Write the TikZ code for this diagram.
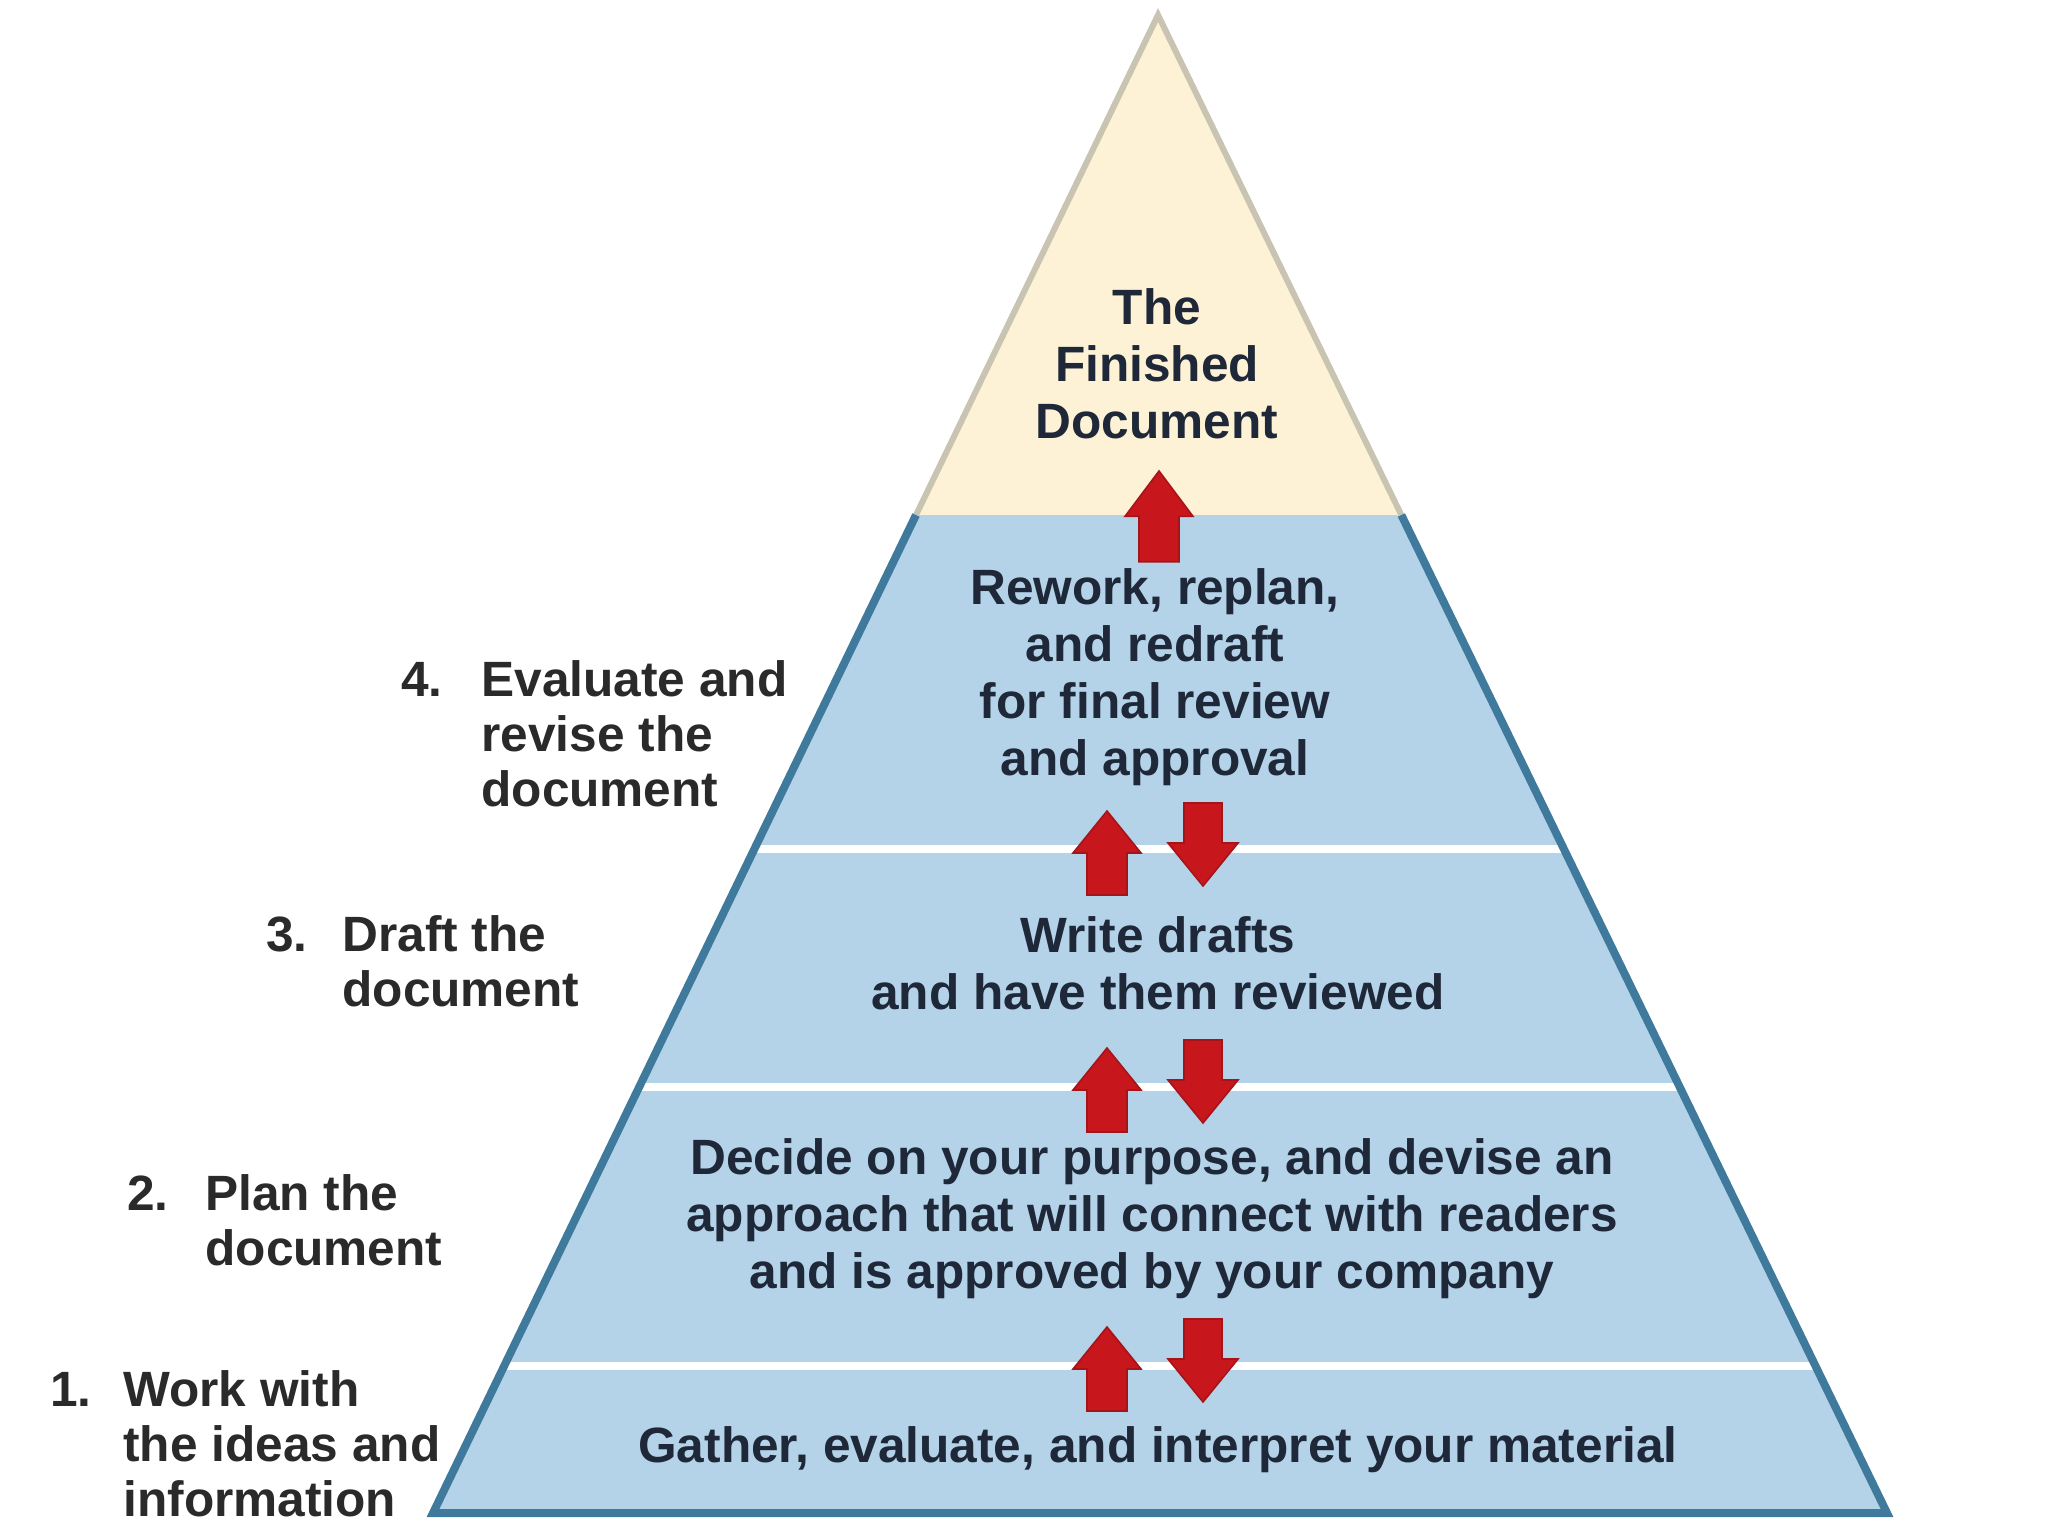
\documentclass[tikz,border=0pt]{standalone}
\usepackage{fontspec}
\setmainfont{Liberation Sans}
\usetikzlibrary{calc}
\definecolor{beige}{HTML}{FEF2D6}
\definecolor{beigeline}{HTML}{C9C4B2}
\definecolor{pyblue}{HTML}{B4D3E9}
\definecolor{pyline}{HTML}{3F7A9C}
\definecolor{arrred}{HTML}{C8161D}
\definecolor{arrline}{HTML}{A51419}
\definecolor{intxt}{HTML}{1E2838}
\definecolor{lbltxt}{HTML}{2A2A2A}
\tikzset{
  intext/.style={align=center, inner sep=0pt, text=intxt, font=\fontsize{24.8}{28.5}\selectfont\bfseries},
  lbltext/.style={align=left, anchor=west, inner sep=0pt, text=lbltxt, font=\fontsize{24.8}{27.5}\selectfont\bfseries},
  arrowstyle/.style={fill=arrred, draw=arrline, line width=0.8pt, line join=miter},
  uparr/.pic={\filldraw[arrowstyle] (0,0) -- (34,42) -- (20,42) -- (20,84) -- (-20,84) -- (-20,42) -- (-34,42) -- cycle;},
  downarr/.pic={\filldraw[arrowstyle] (0,83) -- (35,40) -- (19,40) -- (19,0) -- (-19,0) -- (-19,40) -- (-35,40) -- cycle;}
}
\newcommand{\numlbl}[3]{\makebox[#1][l]{#2}#3}
\begin{document}
\begin{tikzpicture}[x=0.5pt,y=-0.5pt]
\useasboundingbox (0,0) rectangle (2048,1536);
\fill[white] (0,0) rectangle (2048,1536);
% key points
\coordinate (A) at (1158,15);
\coordinate (BL) at (433,1513);
\coordinate (BR) at (1887,1513);
\coordinate (P1L) at ($(A)!0.3338!(BL)$);
\coordinate (P1R) at ($(A)!0.3338!(BR)$);
\coordinate (P2L) at ($(A)!0.5567!(BL)$);
\coordinate (P2R) at ($(A)!0.5567!(BR)$);
\coordinate (P3L) at ($(A)!0.7156!(BL)$);
\coordinate (P3R) at ($(A)!0.7156!(BR)$);
\coordinate (P4L) at ($(A)!0.9019!(BL)$);
\coordinate (P4R) at ($(A)!0.9019!(BR)$);
% beige top
\fill[beige] (A) -- (P1L) -- (P1R) -- cycle;
\draw[beigeline, line width=3pt, line join=miter] (P1L) -- (A) -- (P1R);
% blue body
\fill[pyblue] (P1L) -- (BL) -- (BR) -- (P1R) -- cycle;
\draw[white, line width=4pt] (P2L) -- (P2R);
\draw[white, line width=4pt] (P3L) -- (P3R);
\draw[white, line width=4pt] (P4L) -- (P4R);
\draw[pyline, line width=4pt, line join=miter] (P1L) -- (BL) -- (BR) -- (P1R);
% arrows
\pic[yscale=1.08] at (1159,471) {uparr};
\pic at (1107,811) {uparr};
\pic at (1203,803) {downarr};
\pic at (1107,1048) {uparr};
\pic at (1203,1040) {downarr};
\pic at (1107,1327) {uparr};
\pic at (1203,1319) {downarr};
% inner texts
\node[intext] (top) at (1157,364) {The\\Finished\\Document};
\node[intext] (t4) at (1155,677) {Rework, replan,\\and redraft\\for final review\\and approval};
\node[intext] (t3) at (1158,963) {Write drafts\\and have them reviewed};
\node[intext] (t2) at (1152,1219) {Decide on your purpose, and devise an\\approach that will connect with readers\\and is approved by your company};
\node[intext] (t1) at (1158,1450) {Gather, evaluate, and interpret your material};
% left labels
\node[lbltext] (l4) at (401,734) {\numlbl{40pt}{4.}{Evaluate and}\\\hspace*{40pt}revise the\\\hspace*{40pt}document};
\node[lbltext] (l3) at (266,961) {\numlbl{38pt}{3.}{Draft the}\\\hspace*{38pt}document};
\node[lbltext] (l2) at (127,1220) {\numlbl{39pt}{2.}{Plan the}\\\hspace*{39pt}document};
\node[lbltext] (l1) at (50,1444) {\numlbl{36.5pt}{1.}{Work with}\\\hspace*{36.5pt}the ideas and\\\hspace*{36.5pt}information};
\end{tikzpicture}
\end{document}
